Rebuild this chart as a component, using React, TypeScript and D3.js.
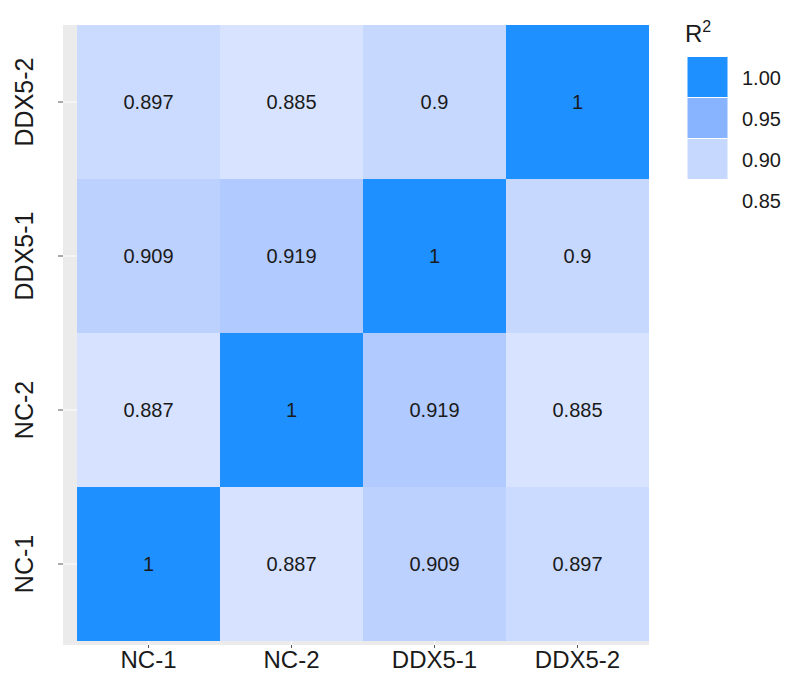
import React from 'react';
import * as d3 from 'd3';

const samples = ['NC-1', 'NC-2', 'DDX5-1', 'DDX5-2'];
// r2[row][col], row/col follow samples order
const r2 = [
  [1, 0.887, 0.909, 0.897],
  [0.887, 1, 0.919, 0.885],
  [0.909, 0.919, 1, 0.9],
  [0.897, 0.885, 0.9, 1],
];
const legendBreaks = [1.0, 0.95, 0.9, 0.85];

const W = 787;
const H = 675;
const panel = { left: 63, right: 649, top: 25, bottom: 645 };
const font = 'Liberation Sans, Arial, Helvetica, sans-serif';

const fmt = (v: number) => String(+v.toFixed(3));

const App = () => {
  const x = d3.scaleBand<string>().domain(samples).range([77, panel.right]).padding(0);
  const y = d3.scaleBand<string>().domain(samples).range([641, panel.top]).padding(0);
  const color = d3
    .scaleLinear<string>()
    .domain([0.85, 1])
    .range(['#ffffff', '#1e90ff'])
    .interpolate(d3.interpolateLab);

  const cells = samples.flatMap((rs, i) =>
    samples.map((cs, j) => ({ row: rs, col: cs, v: r2[i][j] }))
  );
  const bw = x.bandwidth();
  const bh = y.bandwidth();
  const keySize = 41;
  const keyTop = 56.5;

  return (
    <svg width={W} height={H} style={{ position: 'absolute', left: 0, top: 0 }} fontFamily={font}>
      <rect x={0} y={0} width={W} height={H} fill="#fff" />
      <rect
        x={panel.left}
        y={panel.top}
        width={panel.right - panel.left}
        height={panel.bottom - panel.top}
        fill="#ebebeb"
      />
      {samples.map(s => (
        <g key={'g' + s}>
          <line x1={x(s)! + bw / 2} x2={x(s)! + bw / 2} y1={panel.top} y2={panel.bottom} stroke="#fff" strokeWidth={1} />
          <line x1={panel.left} x2={panel.right} y1={y(s)! + bh / 2} y2={y(s)! + bh / 2} stroke="#fff" strokeWidth={1} />
        </g>
      ))}
      {cells.map(c => (
        <g key={c.row + c.col}>
          <rect x={x(c.col)} y={y(c.row)} width={bw} height={bh} fill={color(c.v)} />
          <text
            x={x(c.col)! + bw / 2}
            y={y(c.row)! + bh / 2}
            textAnchor="middle"
            dominantBaseline="central"
            fontSize={20}
            fill="#1a1a1a"
          >
            {fmt(c.v)}
          </text>
        </g>
      ))}
      {samples.map(s => (
        <g key={'t' + s}>
          <line x1={58} x2={panel.left} y1={y(s)! + bh / 2} y2={y(s)! + bh / 2} stroke="#555" strokeWidth={1} />
          <text
            transform={`translate(33,${y(s)! + bh / 2}) rotate(-90)`}
            textAnchor="middle"
            fontSize={25}
            fill="#1a1a1a"
          >
            {s}
          </text>
          <line x1={x(s)! + bw / 2} x2={x(s)! + bw / 2} y1={panel.bottom} y2={panel.bottom + 3} stroke="#555" strokeWidth={1} />
          <text x={x(s)! + bw / 2} y={668} textAnchor="middle" fontSize={24} fill="#1a1a1a">
            {s}
          </text>
        </g>
      ))}
      <text x={685} y={42} fontSize={24} fill="#1a1a1a">
        R<tspan fontSize={16} dy={-10}>2</tspan>
      </text>
      {legendBreaks.map((b, i) => (
        <g key={'l' + b}>
          <rect x={687} y={keyTop + i * keySize} width={keySize} height={keySize} fill={color(b)} stroke="#fff" strokeWidth={1} />
          <text
            x={742}
            y={keyTop + i * keySize + keySize / 2 + 1}
            dominantBaseline="central"
            fontSize={20}
            fill="#1a1a1a"
          >
            {b.toFixed(2)}
          </text>
        </g>
      ))}
    </svg>
  );
};

export default App;
